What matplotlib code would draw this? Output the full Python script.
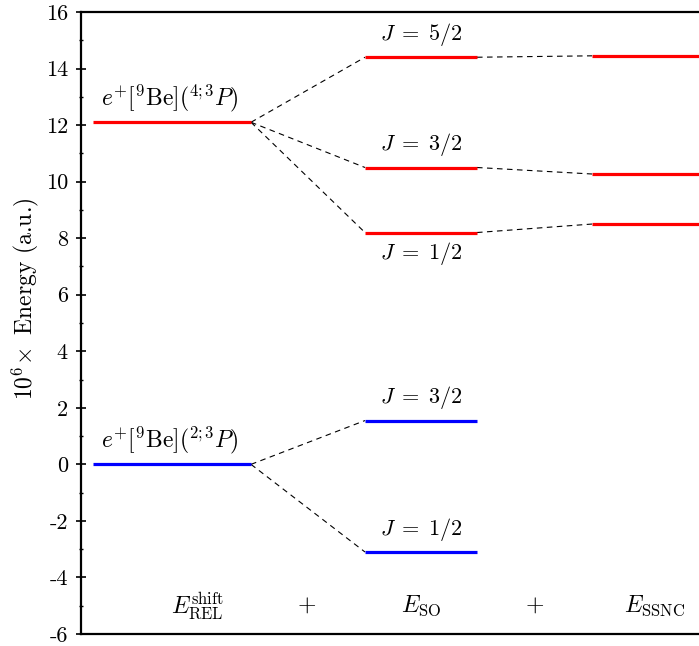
import matplotlib
matplotlib.use("Agg")
import matplotlib.pyplot as plt
from matplotlib.ticker import MultipleLocator

plt.rcParams["font.family"] = "serif"
plt.rcParams["font.serif"] = ["cmr10"]
plt.rcParams["mathtext.fontset"] = "cm"
plt.rcParams["axes.unicode_minus"] = False
plt.rcParams["axes.formatter.use_mathtext"] = True

# column spans (x, arbitrary units)
col_rel = (12, 170)
col_so = (284, 396)
col_ssnc = (511, 623)

# energies (10^6 a.u.)
rel_4p = 12.1
so_4p = [14.4, 10.5, 8.2]
ssnc_4p = [14.45, 10.27, 8.5]
rel_2p = 0.0
so_2p = [1.55, -3.1]

j_4p = [r"$J\;=\;5/2$", r"$J\;=\;3/2$", r"$J\;=\;1/2$"]
j_2p = [r"$J\;=\;3/2$", r"$J\;=\;1/2$"]
state_4p = r"$e^{+}[^{9}\mathrm{Be}](^{4{;}3}P)$"
state_2p = r"$e^{+}[^{9}\mathrm{Be}](^{2{;}3}P)$"
col_labels = [r"$E_{\mathrm{REL}}^{\mathrm{shift}}$", "$+$", r"$E_{\mathrm{SO}}$", "$+$",
              r"$E_{\mathrm{SSNC}}$"]
col_label_x = [116, 226, 340, 454, 574]

RED = "#ff0000"
BLUE = "#0000ff"
FS = 16

fig = plt.figure(figsize=(6.99, 6.46), dpi=100)
ax = fig.add_axes([81 / 699, 12 / 646, 640 / 699, 622 / 646])


def level(span, y, color):
    ax.plot(span, [y, y], color=color, lw=2.3, solid_capstyle="butt", zorder=3)


def link(x0, y0, x1, y1):
    ax.plot([x0, x1], [y0, y1], color="black", lw=0.8, ls=(0, (5, 4)), zorder=2)


# 4;3P manifold
level(col_rel, rel_4p, RED)
for y_so, y_ss in zip(so_4p, ssnc_4p):
    level(col_so, y_so, RED)
    level(col_ssnc, y_ss, RED)
    link(col_rel[1], rel_4p, col_so[0], y_so)
    link(col_so[1], y_so, col_ssnc[0], y_ss)

# 2;3P manifold
level(col_rel, rel_2p, BLUE)
for y_so in so_2p:
    level(col_so, y_so, BLUE)
    link(col_rel[1], rel_2p, col_so[0], y_so)

xc_rel = sum(col_rel) / 2 - 2
xc_so = sum(col_so) / 2
ax.text(xc_rel, rel_4p + 0.85, state_4p, ha="center", va="center", fontsize=FS + 1)
ax.text(xc_rel, rel_2p + 0.85, state_2p, ha="center", va="center", fontsize=FS + 1)
for i, (y, lab) in enumerate(zip(so_4p, j_4p)):
    dy = -0.75 if i == 2 else 0.8
    ax.text(xc_so, y + dy, lab, ha="center", va="center", fontsize=FS)
for y, lab in zip(so_2p, j_2p):
    ax.text(xc_so, y + 0.8, lab, ha="center", va="center", fontsize=FS)

for x, lab in zip(col_label_x, col_labels):
    ax.text(x, -5.0, lab, ha="center", va="center", fontsize=FS + 1)

ax.set_xlim(0, 640)
ax.set_ylim(-6, 16)
ax.set_xticks([])
ax.yaxis.set_major_locator(MultipleLocator(2))
ax.yaxis.set_minor_locator(MultipleLocator(1))
yt = list(range(-6, 17, 2))
ax.set_yticks(yt)
ax.set_yticklabels([str(v) for v in yt], fontsize=FS)
ax.tick_params(axis="y", which="major", direction="inout", length=7, width=1.2, pad=6)
ax.tick_params(axis="y", which="minor", direction="inout", length=3, width=1.0)
for s in ax.spines.values():
    s.set_linewidth(1.6)
ax.spines["right"].set_visible(False)
ax.set_ylabel(r"$10^{6}\!\times$ Energy (a.u.)", fontsize=FS + 1)
ax.yaxis.set_label_coords(-40 / 640, 0.539)

fig.savefig("out.png", dpi=100)
